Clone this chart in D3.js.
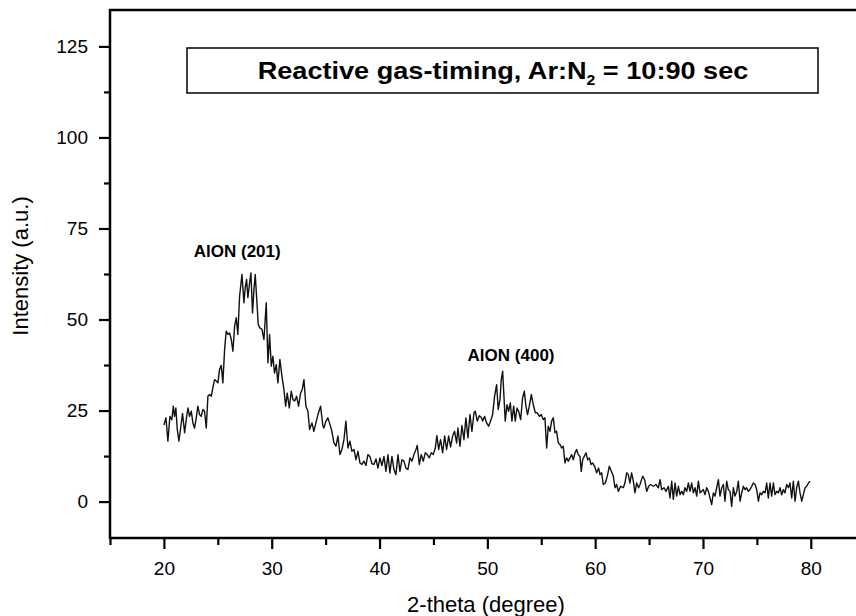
<!DOCTYPE html>
<html>
<head>
<meta charset="utf-8">
<script src="https://cdn.jsdelivr.net/npm/d3@7"></script>
<style>
  body { margin: 0; background: #fff; }
  svg { display: block; font-family: "Liberation Sans", Arial, sans-serif; }
</style>
</head>
<body>
<div id="chart"></div>
<script>
// XRD scan: 2-theta (degree) and intensity (a.u.)
const twoTheta = [
  20.00,20.19,20.37,20.56,20.74,20.87,20.99,21.11,21.24,21.39,21.55,21.73,21.92,22.07,22.23,22.38,22.54,22.69,22.84,23.00,
  23.15,23.31,23.46,23.62,23.77,23.93,24.08,24.24,24.39,24.54,24.70,24.85,25.01,25.16,25.32,25.47,25.63,25.78,25.94,26.09,
  26.25,26.40,26.56,26.71,26.86,27.02,27.24,27.42,27.54,27.67,27.79,27.95,28.07,28.22,28.35,28.47,28.63,28.75,28.90,29.09,
  29.28,29.49,29.65,29.80,29.96,30.11,30.26,30.42,30.57,30.76,30.95,31.13,31.29,31.44,31.63,31.81,31.97,32.12,32.31,32.49,
  32.68,32.83,32.99,33.17,33.36,33.51,33.73,33.91,34.10,34.29,34.53,34.75,
  34.84,35.03,35.21,35.40,35.58,35.77,35.96,36.14,36.33,36.51,36.70,36.88,37.07,37.25,37.44,37.63,37.81,38.00,38.18,38.37,
  38.55,38.74,38.92,39.11,39.29,39.48,39.67,39.85,40.04,40.22,40.41,40.59,40.78,40.96,41.15,41.34,41.52,41.71,41.89,42.08,
  42.26,42.45,42.63,42.82,43.00,43.19,43.38,43.50,43.69,43.87,44.06,44.24,44.43,44.61,44.80,44.98,45.17,45.32,45.48,45.66,
  45.85,46.04,46.22,46.41,46.59,46.78,46.96,47.15,47.27,47.46,47.64,47.83,48.01,48.20,48.39,48.57,48.76,48.88,49.07,49.25,
  49.47,
  49.56,49.75,49.93,50.12,50.30,50.49,50.67,50.86,51.01,51.17,51.29,51.42,51.54,51.66,51.82,51.97,52.13,52.28,52.44,52.59,
  52.75,52.90,53.09,53.27,53.43,53.58,53.73,53.89,54.08,54.26,54.45,54.63,54.82,55.00,55.19,55.34,55.50,55.65,55.81,55.96,
  56.12,56.27,56.42,56.58,56.73,56.89,57.04,57.20,57.35,57.51,57.66,57.82,57.97,58.13,58.28,58.43,58.59,58.71,58.84,58.99,
  59.15,59.30,59.46,59.61,59.76,59.95,60.14,60.32,
  60.45,60.60,60.75,60.94,61.13,61.31,61.50,61.68,61.84,61.99,62.15,62.36,62.61,62.76,62.92,63.07,63.23,63.38,63.54,63.69,
  63.85,64.03,
  64.16,64.41,64.59,64.78,64.96,65.15,65.40,65.64,65.86,66.02,66.17,66.39,66.57,66.79,66.94,67.10,67.25,67.41,67.56,67.72,
  67.87,68.03,68.18,68.33,68.49,68.64,68.80,68.95,69.11,69.26,69.42,69.57,69.73,69.88,70.03,70.19,70.34,70.50,70.65,70.81,
  70.96,71.12,71.27,71.43,71.58,71.74,71.89,72.04,72.20,72.35,72.51,72.66,72.82,72.97,73.13,73.28,73.44,73.59,73.75,73.90,
  74.05,74.21,74.36,74.52,74.67,74.83,74.98,75.14,75.29,75.45,75.60,75.76,75.91,76.06,76.22,76.37,76.53,76.68,76.84,76.99,
  77.15,77.30,77.46,77.61,77.76,77.92,78.07,78.23,78.38,78.54,78.69,78.85,79.00,79.16,79.31,79.47,79.62,79.78,79.93
];
const intensity = [
  21.0,23.0,16.6,23.4,22.5,26.2,23.4,25.7,19.8,16.6,20.2,24.2,18.9,22.5,25.7,23.4,24.8,21.6,20.2,23.0,
  26.2,23.9,23.4,25.3,24.8,20.2,28.9,29.4,28.9,31.2,33.5,33.1,32.6,36.3,37.4,32.6,41.8,46.8,45.9,46.3,
  44.5,41.3,48.2,50.5,45.9,56.4,62.4,54.6,58.7,61.0,56.0,60.1,62.8,51.8,58.2,62.4,54.6,48.6,47.7,47.3,
  44.5,54.6,38.1,45.9,37.2,39.9,35.3,37.6,32.6,39.0,34.4,30.8,26.2,29.8,25.7,30.3,28.0,27.6,28.9,26.2,
  29.8,30.8,33.5,26.2,24.8,19.8,21.6,19.3,21.6,23.9,26.2,20.7,
  20.2,22.1,23.0,21.2,19.3,16.1,15.2,18.0,12.9,14.3,17.0,22.1,14.7,16.6,13.8,14.3,11.5,13.8,10.6,10.2,
  11.1,9.9,12.9,12.4,10.4,10.2,11.7,9.2,12.0,9.9,12.4,8.3,12.9,7.9,12.4,8.8,7.4,12.9,8.3,11.5,
  11.1,9.2,8.8,12.0,11.1,12.9,14.3,15.4,10.2,12.9,11.1,13.4,12.9,12.0,13.4,12.9,14.7,18.1,14.3,17.0,
  13.4,18.0,14.3,18.0,15.0,18.0,19.3,16.1,20.2,15.2,20.9,17.0,23.0,17.5,23.9,19.3,24.4,24.8,22.1,23.6,
  23.0,
  22.1,23.4,21.6,20.7,22.1,23.9,28.9,32.1,25.3,28.0,33.5,35.8,28.9,22.1,26.6,24.8,27.1,22.1,26.2,22.1,
  25.7,24.8,22.5,28.5,30.3,26.2,23.9,26.2,29.4,26.6,24.4,24.4,23.4,23.9,22.5,23.0,14.7,20.7,19.3,22.1,
  23.0,18.9,19.3,16.1,15.7,14.7,15.2,10.6,12.0,11.1,12.0,12.9,11.5,13.4,14.3,12.9,12.4,8.3,11.5,12.4,
  13.4,11.5,12.0,10.2,10.6,9.7,7.9,9.2,
  7.4,7.9,4.7,5.1,7.0,9.7,8.3,7.0,3.8,4.7,2.8,4.2,3.8,5.1,7.9,7.4,5.1,7.9,5.6,2.4,
  5.1,3.8,
  4.7,7.0,6.0,2.8,4.2,4.7,4.2,4.7,3.8,6.0,3.3,3.8,2.8,4.2,1.0,5.6,0.6,5.1,1.5,4.2,
  1.9,2.8,1.9,3.8,2.8,5.1,2.8,5.1,2.4,3.8,1.5,5.6,2.4,2.8,3.3,1.9,3.8,2.8,1.0,-0.8,
  2.4,1.5,3.8,6.0,1.5,3.8,4.7,0.1,5.6,3.3,2.8,-1.3,3.8,1.5,2.8,5.6,0.1,2.4,4.2,3.3,
  3.8,2.8,3.3,4.2,5.1,4.7,3.3,0.1,2.4,1.9,2.8,2.4,5.1,1.0,5.1,1.5,5.1,1.9,2.8,2.4,
  3.8,1.9,3.3,2.4,4.7,3.8,5.1,1.0,5.6,0.1,3.8,5.6,2.4,0.1,1.9,3.8,4.2,5.1,5.6
];

const xTicks = [20, 30, 40, 50, 60, 70, 80];
const xMinorTicks = [15, 25, 35, 45, 55, 65, 75];
const yTicks = [0, 25, 50, 75, 100, 125];
const yMinorTicks = [12.5, 37.5, 62.5, 87.5, 112.5];

const peakNames = ['AlON (201)', 'AlON (400)'];
const peakAt = [[26.8, 67.3], [52.2, 38.5]];

const margin = { top: 10, left: 110 };
const width = 754.7;
const height = 528;

const svg = d3.select('#chart')
    .append('svg')
    .attr('width', 856)
    .attr('height', 616);

const g = svg.append('g')
    .attr('transform', `translate(${margin.left},${margin.top})`);

const x = d3.scaleLinear().domain([15, 85]).range([0, width]);
const y = d3.scaleLinear().domain([-10, 135]).range([height, 0]);

// frame (right edge falls outside the picture)
g.append('rect')
    .attr('width', width)
    .attr('height', height)
    .attr('fill', 'none')
    .attr('stroke', '#000')
    .attr('stroke-width', 2.5);

function styleAxis(sel, size) {
    sel.select('.domain').remove();
    sel.selectAll('line').attr('stroke', '#000').attr('stroke-width', 2.2);
    sel.selectAll('text').attr('fill', '#000').style('font-size', size + 'px');
}

// major + minor ticks, x
g.append('g')
    .attr('transform', `translate(0,${height})`)
    .call(d3.axisBottom(x).tickValues(xTicks).tickSize(11).tickPadding(13).tickFormat(d3.format('d')))
    .call(s => styleAxis(s, 19));
g.append('g')
    .attr('transform', `translate(0,${height})`)
    .call(d3.axisBottom(x).tickValues(xMinorTicks).tickSize(7).tickFormat(''))
    .call(s => styleAxis(s, 19));

// major + minor ticks, y
g.append('g')
    .call(d3.axisLeft(y).tickValues(yTicks).tickSize(11).tickPadding(11).tickFormat(d3.format('d')))
    .call(s => styleAxis(s, 19));
g.append('g')
    .call(d3.axisLeft(y).tickValues(yMinorTicks).tickSize(6).tickFormat(''))
    .call(s => styleAxis(s, 19));

// the scan
const line = d3.line()
    .x(d => x(d[0]))
    .y(d => y(d[1]));

g.append('path')
    .datum(d3.zip(twoTheta, intensity))
    .attr('fill', 'none')
    .attr('stroke', '#111')
    .attr('stroke-width', 1.4)
    .attr('stroke-linejoin', 'round')
    .attr('d', line);

// peak labels
g.selectAll('.peak')
    .data(peakNames)
    .enter()
    .append('text')
    .attr('class', 'peak')
    .attr('x', (d, i) => x(peakAt[i][0]))
    .attr('y', (d, i) => y(peakAt[i][1]))
    .attr('text-anchor', 'middle')
    .style('font-size', '17px')
    .style('font-weight', 'bold')
    .text(d => d);

// title box
g.append('rect')
    .attr('x', 77)
    .attr('y', 38)
    .attr('width', 631)
    .attr('height', 45)
    .attr('fill', '#fff')
    .attr('stroke', '#000')
    .attr('stroke-width', 1.5);

// the title lettering is wide in the original, so stretch it a little
const title = g.append('text')
    .attr('transform', 'translate(393,69) scale(1.13,1)')
    .attr('text-anchor', 'middle')
    .style('font-size', '24px')
    .style('font-weight', 'bold');
title.append('tspan').text('Reactive gas-timing, Ar:N');
title.append('tspan').attr('dy', 6).style('font-size', '14px').text('2');
title.append('tspan').attr('dy', -6).text(' = 10:90 sec');

// axis titles
svg.append('text')
    .attr('x', 486)
    .attr('y', 612)
    .attr('text-anchor', 'middle')
    .style('font-size', '22px')
    .text('2-theta (degree)');

svg.append('text')
    .attr('transform', 'translate(28,266) rotate(-90)')
    .attr('text-anchor', 'middle')
    .style('font-size', '22px')
    .text('Intensity (a.u.)');
</script>
</body>
</html>
